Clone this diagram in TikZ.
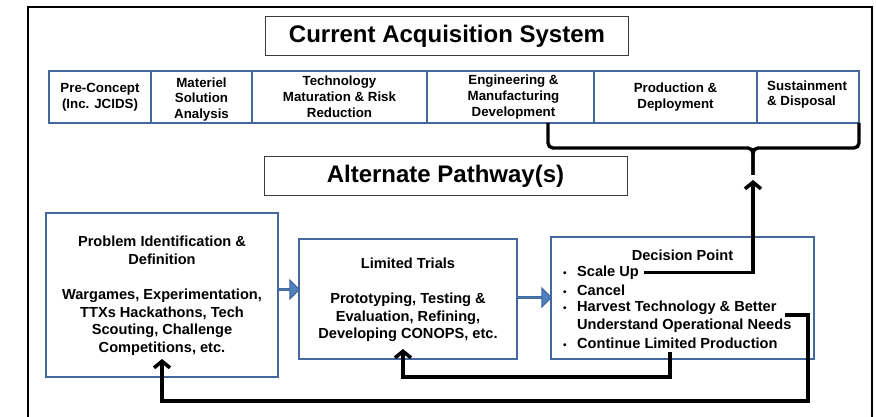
\documentclass[tikz,border=0pt]{standalone}
\usepackage{fontspec}
\setmainfont{Liberation Sans}
\usetikzlibrary{arrows.meta,shapes.arrows,calc}
\definecolor{bbord}{RGB}{66,104,158}
\definecolor{bfill}{RGB}{79,129,189}
\definecolor{tbord}{RGB}{60,60,60}
\begin{document}
\begin{tikzpicture}[x=1pt,y=-1pt,
  every node/.style={font=\bfseries},
  frame/.style={draw=black,line width=2.2pt},
  titlebox/.style={draw=tbord,line width=1pt,minimum width=363pt,minimum height=39pt,inner sep=0pt,font=\bfseries\fontsize{24}{28}\selectfont},
  phase/.style={draw=bbord,line width=2.2pt,minimum height=52pt,inner sep=0pt,align=center,font=\bfseries\fontsize{13.3}{15.8}\selectfont},
  ptext/.style={inner sep=0pt,font=\bfseries\fontsize{13.3}{15.8}\selectfont},
  pbox/.style={draw=bbord,line width=2.2pt,inner sep=0pt},
  btext/.style={align=center,inner sep=0pt,font=\bfseries\fontsize{14.6}{17.6}\selectfont},
  dline/.style={anchor=west,inner sep=1pt,font=\bfseries\fontsize{14.6}{17.6}\selectfont},
  conn/.style={draw=black,line width=3.6pt},
  arr/.style={conn,-{Straight Barb[length=6.5pt,width=16pt]}},
  brace/.style={draw=black,line width=3.4pt,rounded corners=5pt},
  blockarr/.style={single arrow,draw=bbord,fill=bfill,line width=1pt,inner sep=0pt,single arrow head extend=5pt,single arrow tip angle=90}
]
\useasboundingbox (0,0) rectangle (876,417);
% outer frame
\draw[frame] (28,7) rectangle (872,430);

% titles
\node[titlebox] (t1) at (447,36.5) {Current Acquisition System};
\node[titlebox] (t2) at (445.5,176.5) {Alternate Pathway(s)};

% phases row
\node[phase,minimum width=102pt] (p1) at (100,97) {Pre-Concept\\(Inc. JCIDS)};
\node[phase,minimum width=101pt] (p2) at (201.5,97) {};
\node[ptext,align=center] (p2t) at (201.5,99.5) {Materiel\\Solution\\Analysis};
\node[phase,minimum width=175pt] (p3) at (339.5,97) {Technology\\Maturation \& Risk\\Reduction};
\node[phase,minimum width=167pt] (p4) at (510.5,97) {\hspace*{6pt}Engineering \&\\\hspace*{6pt}Manufacturing\\\hspace*{6pt}Development};
\node[phase,minimum width=163pt] (p5) at (675.5,97) {Production \&\\Deployment};
\node[phase,minimum width=102pt] (p6) at (808,97) {};
\node[ptext,align=left,anchor=west] (p6t) at (767,94.5) {Sustainment\\\& Disposal};

% brace
\coordinate (bl) at (548,123);
\coordinate (br) at (859,123);
\coordinate (cusp) at (753,175);
\draw[brace] (bl) -- (548,148) -- (753,148) -- (cusp);
\draw[brace] (br) -- (859,148) -- (753,148) -- (cusp);

% pathway boxes
\node[pbox,minimum width=232pt,minimum height=164pt] (b1) at (162,295) {};
\node[btext] (b1t) at (162,296) {Problem Identification \&\\Definition\\[17.6pt]Wargames, Experimentation,\\TTXs Hackathons, Tech\\Scouting, Challenge\\Competitions, etc.};
\node[pbox,minimum width=218pt,minimum height=120pt] (b2) at (408,299) {};
\node[btext] (b2t) at (408,300) {Limited Trials\\[17.6pt]Prototyping, Testing \&\\Evaluation, Refining,\\Developing CONOPS, etc.};
\node[pbox,minimum width=263pt,minimum height=122pt] (b3) at (682.5,298) {};
\node[btext] (dp) at (682.5,255) {Decision Point};
\node[dline] (su) at (562,272.5) {\makebox[14pt][l]{\fontsize{10}{10}\selectfont•}Scale Up};
\node[dline] (ca) at (562,290) {\makebox[14pt][l]{\fontsize{10}{10}\selectfont•}Cancel};
\node[dline] (hv) at (562,308) {\makebox[14pt][l]{\fontsize{10}{10}\selectfont•}Harvest Technology \& Better};
\node[dline] (hv2) at (576,325.5) {Understand Operational Needs};
\node[dline] (cl) at (562,343) {\makebox[14pt][l]{\fontsize{10}{10}\selectfont•}Continue Limited Production};

% block arrows
\node[blockarr,minimum height=21pt,minimum width=19pt] (a1) at (288.5,289.5) {};
\node[blockarr,minimum height=34pt,minimum width=19pt] (a2) at (534,297.5) {};

% connectors
\coordinate (sus) at ([xshift=4pt]su.east);
\coordinate (sutip) at (753,180);
\coordinate (hvs) at (785,315);
\coordinate (cls) at (670,352);
\coordinate (b2tip) at (403,349);
\coordinate (b1tip) at (162,359);
\draw[arr] (sus) -| (sutip);
\draw[arr] (cls) -- (670,377) -| (b2tip);
\draw[arr] (hvs) -| (808,401) -| (b1tip);
\end{tikzpicture}
\end{document}
